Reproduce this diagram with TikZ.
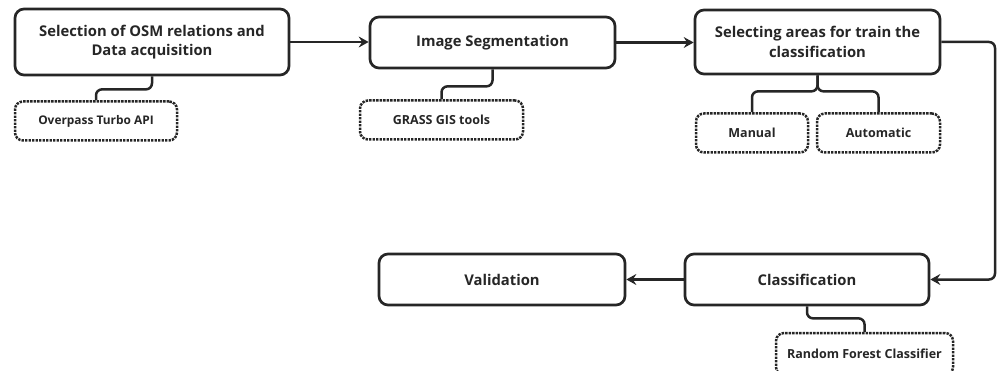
\documentclass[tikz,border=0pt]{standalone}
\usepackage{fontspec}
\setmainfont{Open Sans}
\usetikzlibrary{arrows.meta}
\begin{document}
\begin{tikzpicture}[x=1pt,y=-1pt,
  mainbox/.style={draw=black!85, line width=2.7pt, rounded corners=9pt, minimum width=#1, align=center, inner sep=0pt, font=\bfseries\fontsize{14.8}{19.5}\selectfont, text=black!85},
  subbox/.style={draw=black!85, line width=2.5pt, dash pattern=on 2.4pt off 1.1pt, rounded corners=8pt, minimum height=39pt, minimum width=#1, inner sep=0pt, font=\bfseries\fontsize{12.5}{15}\selectfont, text=black!85},
  link/.style={draw=black!85, line width=2.5pt, rounded corners=6pt},
  arr/.style={link, -{Stealth[length=10pt,width=11pt,inset=3.5pt]}}]
\useasboundingbox (0,0) rectangle (1003,371);
\node[mainbox=274pt, minimum height=66pt] (b1) at (152,42) {Selection of OSM relations and\\Data acquisition};
\node[mainbox=245pt, minimum height=51pt] (b2) at (492.5,42.5) {Image Segmentation};
\node[mainbox=245pt, minimum height=64pt] (b3) at (817.5,42) {Selecting areas for train the\\classification};
\node[subbox=162pt, font=\bfseries\fontsize{11.9}{15}\selectfont] (s1) at (96,121) {Overpass Turbo API};
\node[subbox=163pt] (s2) at (441.5,120) {GRASS GIS tools};
\node[subbox=112pt] (m) at (752,133) {Manual};
\node[subbox=123pt] (a) at (878.5,133) {Automatic};
\node[mainbox=246pt, minimum height=51pt] (v) at (502,279.5) {Validation};
\node[mainbox=244pt, minimum height=51pt] (c) at (807,279.5) {Classification};
\node[subbox=177pt, minimum height=42pt] (rf) at (864.5,354) {Random Forest Classifier};
\coordinate (r1) at (995,42);
\draw[arr] (b1.east) -- (b2.west |- b1.east);
\draw[arr] (b2.east) -- (b3.west |- b2.east);
\draw[arr] (b3.east) -- (r1) |- (c.east);
\draw[arr] (c.west) -- (v.east);
\draw[link] (b1.south) -- ++(0,13) -| (s1.north);
\draw[link] (b2.south) -- ++(0,17) -| (s2.north);
\draw[link] (b3.south) -- ++(0,16) -| (m.north);
\draw[link] (b3.south) -- ++(0,16) -| (a.north);
\draw[link] (c.south) -- ++(0,12) -| (rf.north);
\end{tikzpicture}
\end{document}
